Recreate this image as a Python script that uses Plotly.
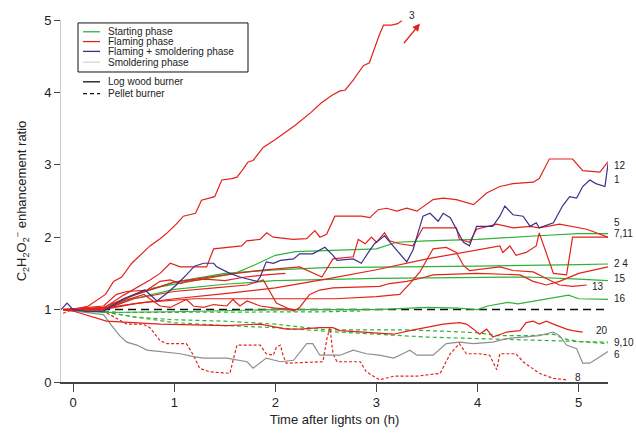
import plotly.graph_objects as go

# ---------------- data (time in h, enhancement ratio) ----------------
t_3 = [-0.1, 0.0, 0.15, 0.32, 0.40, 0.48, 0.58, 0.66, 0.76, 0.86, 0.93, 1.02, 1.09, 1.21, 1.27, 1.40, 1.47, 1.57, 1.62, 1.67, 1.73, 1.78, 1.88, 2.0, 2.1, 2.2, 2.35, 2.45, 2.56, 2.64, 2.69, 2.77, 2.87, 2.93, 3.03, 3.07, 3.15, 3.21, 3.25]
v_3 = [1.0, 1.0, 1.05, 1.21, 1.39, 1.45, 1.64, 1.75, 1.88, 1.98, 2.06, 2.18, 2.29, 2.33, 2.51, 2.56, 2.79, 2.81, 2.83, 2.92, 3.04, 3.06, 3.24, 3.35, 3.45, 3.55, 3.72, 3.85, 3.96, 4.02, 4.03, 4.17, 4.37, 4.41, 4.80, 4.93, 4.93, 4.95, 4.99]

t_12 = [-0.1, 0.0, 0.3, 0.5, 0.76, 0.86, 0.96, 1.06, 1.32, 1.39, 1.667, 1.716, 1.848, 1.914, 1.979, 2.177, 2.309, 2.391, 2.441, 2.507, 2.589, 2.705, 2.853, 2.935, 3.017, 3.10, 3.20, 3.30, 3.40, 3.56, 3.66, 3.79, 3.96, 4.09, 4.22, 4.35, 4.55, 4.61, 4.71, 4.94, 5.04, 5.21, 5.29]
v_12 = [1.0, 1.0, 1.02, 1.2, 1.41, 1.50, 1.64, 1.59, 1.59, 1.84, 1.88, 1.95, 1.97, 2.06, 2.00, 1.97, 1.98, 2.09, 2.00, 2.04, 2.29, 2.29, 2.29, 2.27, 2.38, 2.40, 2.36, 2.40, 2.36, 2.52, 2.54, 2.52, 2.45, 2.61, 2.70, 2.74, 2.76, 2.81, 3.08, 3.08, 2.92, 2.90, 3.04]

t_1 = [-0.12, -0.06, 0.0, 0.15, 0.3, 0.5, 0.71, 0.83, 0.93, 1.02, 1.12, 1.2, 1.29, 1.39, 1.42, 1.55, 1.65, 1.77, 1.82, 1.85, 1.91, 1.98, 2.05, 2.18, 2.24, 2.37, 2.49, 2.57, 2.61, 2.77, 2.85, 2.92, 2.98, 3.08, 3.13, 3.20, 3.30, 3.36, 3.46, 3.53, 3.61, 3.66, 3.73, 3.79, 3.86, 3.92, 3.99, 4.15, 4.22, 4.27, 4.35, 4.45, 4.52, 4.58, 4.61, 4.75, 4.84, 4.91, 4.98, 5.04, 5.11, 5.17, 5.26, 5.29]
v_1 = [1.0, 1.09, 1.0, 0.97, 0.98, 1.15, 1.27, 1.12, 1.23, 1.34, 1.48, 1.6, 1.64, 1.64, 1.59, 1.50, 1.45, 1.41, 1.39, 1.45, 1.66, 1.64, 1.68, 1.70, 1.77, 1.77, 1.86, 1.75, 1.68, 1.70, 1.64, 1.79, 1.91, 2.02, 1.93, 1.82, 1.66, 1.82, 2.29, 2.33, 2.22, 2.33, 2.27, 2.11, 1.93, 1.88, 2.15, 2.15, 2.29, 2.43, 2.31, 2.29, 2.15, 2.20, 2.13, 2.20, 2.43, 2.56, 2.54, 2.70, 2.79, 2.74, 2.70, 3.01]

t_5 = [-0.1, 0.3, 0.6, 1.0, 1.5, 1.9, 2.24, 2.46, 2.57, 2.77, 2.82, 2.89, 2.95, 3.0, 3.08, 3.13, 3.23, 3.36, 3.46, 3.79, 3.82, 3.92, 3.99, 4.19, 4.35, 4.52, 4.61, 4.81, 5.08, 5.29]
v_5 = [1.0, 1.03, 1.2, 1.38, 1.48, 1.55, 1.59, 1.45, 1.70, 1.73, 1.97, 1.91, 2.0, 1.93, 2.06, 1.95, 1.91, 1.88, 2.13, 2.13, 1.97, 1.93, 2.11, 2.18, 2.13, 2.15, 2.13, 2.18, 2.11, 2.0]

t_11 = [-0.1, 0.3, 0.6, 1.0, 1.5, 2.0, 2.5, 3.0, 3.5, 4.0, 4.22, 4.25, 4.32, 4.38, 4.48, 4.58, 4.61, 4.75, 4.88, 4.94, 5.21, 5.29]
v_11 = [1.0, 1.0, 1.08, 1.15, 1.22, 1.3, 1.42, 1.55, 1.7, 1.82, 1.88, 1.79, 1.88, 1.75, 1.79, 1.88, 2.06, 1.5, 1.48, 2.0, 2.0, 2.0]

t_13 = [-0.1, 0.3, 0.7, 1.2, 2.0, 2.6, 3.0, 3.23, 3.33, 3.43, 3.56, 3.69, 3.79, 3.86, 3.92, 4.09, 4.22, 4.35, 4.55, 4.68, 4.81, 4.94, 5.08]
v_13 = [1.0, 1.02, 1.1, 1.15, 1.15, 1.15, 1.18, 1.21, 1.36, 1.52, 1.84, 1.86, 1.79, 1.61, 1.54, 1.57, 1.59, 1.54, 1.52, 1.43, 1.34, 1.32, 1.34]

t_4 = [-0.1, 0.3, 0.6, 1.0, 1.4, 1.72, 1.88, 2.01, 2.18, 2.24, 2.34, 2.44, 2.57, 3.03, 3.13, 3.30, 3.43, 3.56, 4.0, 4.42, 4.55, 4.68, 4.81, 5.0, 5.29]
v_4 = [1.0, 1.0, 1.15, 1.25, 1.3, 1.34, 1.41, 1.09, 0.98, 1.03, 1.21, 1.27, 1.30, 1.32, 1.36, 1.39, 1.43, 1.48, 1.5, 1.48, 1.39, 1.34, 1.39, 1.5, 1.59]

t_14 = [-0.1, 0.3, 0.5, 0.70, 0.79, 0.86, 0.96, 1.12, 1.19, 1.29, 1.39, 1.52, 1.58, 1.65, 1.72, 1.85, 2.0, 2.2]
v_14 = [1.0, 1.0, 1.12, 1.21, 1.12, 1.05, 1.03, 1.14, 1.05, 1.03, 1.07, 1.05, 1.14, 1.05, 1.12, 1.05, 1.02, 1.0]

t_17 = [-0.1, 0.30, 0.43, 0.53, 0.73, 0.86, 0.96, 1.06, 1.12, 1.3, 1.5, 1.7, 1.9, 2.1]
v_17 = [1.0, 1.05, 1.21, 1.25, 1.27, 1.39, 1.41, 1.36, 1.39, 1.42, 1.40, 1.45, 1.48, 1.5]

t_20 = [-0.1, 0.0, 0.33, 0.86, 1.52, 1.85, 2.11, 2.24, 2.44, 2.57, 2.64, 2.90, 3.17, 3.33, 3.56, 3.66, 3.82, 3.89, 3.96, 4.02, 4.09, 4.15, 4.29, 4.42, 4.48, 4.55, 4.61, 4.68, 4.75, 4.88, 4.94, 5.04]
v_20 = [1.0, 0.98, 0.84, 0.80, 0.78, 0.80, 0.73, 0.73, 0.75, 0.75, 0.71, 0.69, 0.66, 0.71, 0.78, 0.80, 0.82, 0.80, 0.73, 0.66, 0.73, 0.62, 0.69, 0.71, 0.82, 0.84, 0.80, 0.84, 0.80, 0.73, 0.71, 0.69]

t_8 = [-0.1, 0.0, 0.30, 0.53, 0.69, 0.76, 0.86, 0.93, 1.12, 1.19, 1.25, 1.35, 1.55, 1.58, 1.62, 1.85, 1.91, 1.98, 2.01, 2.05, 2.08, 2.11, 2.47, 2.51, 2.54, 2.57, 2.61, 2.84, 2.90, 3.03, 3.17, 3.40, 3.63, 3.73, 3.82, 3.89, 4.02, 4.12, 4.19, 4.22, 4.38, 4.45, 4.61, 4.75, 4.88]
v_8 = [0.95, 1.0, 0.98, 0.80, 0.80, 0.75, 0.57, 0.53, 0.53, 0.37, 0.19, 0.14, 0.12, 0.28, 0.51, 0.51, 0.39, 0.37, 0.48, 0.51, 0.35, 0.26, 0.28, 0.60, 0.75, 0.39, 0.28, 0.28, 0.14, 0.03, 0.08, 0.08, 0.12, 0.39, 0.53, 0.39, 0.39, 0.37, 0.17, 0.39, 0.39, 0.28, 0.12, 0.05, 0.03]

t_6 = [-0.1, 0.0, 0.30, 0.37, 0.46, 0.53, 0.63, 0.73, 0.86, 1.06, 1.19, 1.29, 1.52, 1.72, 1.78, 1.85, 1.91, 2.05, 2.18, 2.31, 2.37, 2.44, 2.64, 2.77, 2.90, 3.03, 3.17, 3.26, 3.33, 3.40, 3.56, 3.69, 3.82, 3.96, 4.15, 4.29, 4.48, 4.61, 4.75, 4.81, 4.88, 4.98, 5.04, 5.11, 5.21, 5.29]
v_6 = [1.0, 0.98, 0.93, 0.80, 0.64, 0.55, 0.51, 0.44, 0.42, 0.39, 0.35, 0.33, 0.33, 0.28, 0.19, 0.26, 0.33, 0.28, 0.30, 0.53, 0.53, 0.37, 0.37, 0.44, 0.39, 0.37, 0.33, 0.39, 0.44, 0.37, 0.37, 0.53, 0.55, 0.53, 0.55, 0.60, 0.62, 0.64, 0.69, 0.64, 0.51, 0.46, 0.26, 0.26, 0.35, 0.42]

t_7 = [-0.1, 0.3, 0.5, 0.8, 1.2, 1.6, 1.8, 2.0, 2.2, 2.6, 3.0, 3.2, 3.5, 4.0, 4.3, 4.6, 5.0, 5.29]
v_7 = [1.0, 1.0, 1.15, 1.3, 1.4, 1.5, 1.62, 1.75, 1.80, 1.82, 1.84, 1.93, 1.95, 1.97, 2.0, 2.02, 2.05, 2.05]

t_2 = [-0.1, 0.3, 0.6, 1.0, 1.5, 2.0, 2.5, 3.0, 4.0, 5.0, 5.29]
v_2 = [1.0, 1.0, 1.2, 1.38, 1.5, 1.55, 1.58, 1.59, 1.6, 1.62, 1.63]

t_15 = [-0.1, 0.3, 0.6, 1.0, 1.5, 2.0, 3.0, 4.0, 4.5, 5.0, 5.29]
v_15 = [1.0, 1.0, 1.15, 1.28, 1.35, 1.4, 1.43, 1.45, 1.45, 1.42, 1.40]

t_16 = [-0.1, 0.3, 1.0, 2.0, 3.0, 3.5, 3.8, 4.0, 4.1, 4.3, 4.4, 4.6, 4.8, 4.9, 5.0, 5.29]
v_16 = [1.0, 0.96, 0.97, 1.0, 1.0, 1.03, 1.02, 1.0, 1.05, 1.1, 1.08, 1.13, 1.18, 1.2, 1.15, 1.14]

t_9 = [-0.1, 0.3, 0.6, 1.0, 1.5, 2.0, 2.5, 2.84, 3.3, 3.7, 4.0, 4.2, 4.5, 4.75, 4.85, 5.0, 5.29]
v_9 = [1.0, 0.97, 0.9, 0.86, 0.84, 0.8, 0.72, 0.72, 0.72, 0.7, 0.68, 0.64, 0.64, 0.66, 0.6, 0.56, 0.55]

t_10 = [-0.1, 0.3, 0.6, 1.0, 1.5, 2.0, 2.5, 3.0, 3.5, 4.0, 4.5, 5.0, 5.29]
v_10 = [1.0, 0.97, 0.9, 0.82, 0.78, 0.75, 0.7, 0.66, 0.62, 0.6, 0.58, 0.56, 0.53]

t_18 = [-0.1, 0.3, 0.46, 1.0, 1.5, 2.0, 2.5, 2.84]
v_18 = [1.0, 0.98, 0.96, 0.96, 0.96, 0.97, 0.97, 0.98]

t_ref = [-0.1, 5.29]
v_ref = [1.0, 1.0]

# series: (x, y, phase, burner)
series = [
    (t_ref, v_ref, "ref", "pellet"),
    (t_18, v_18, "start", "pellet"),
    (t_9, v_9, "start", "pellet"),
    (t_10, v_10, "start", "pellet"),
    (t_8, v_8, "flame", "pellet"),
    (t_6, v_6, "smoulder", "log"),
    (t_16, v_16, "start", "log"),
    (t_15, v_15, "start", "log"),
    (t_2, v_2, "start", "log"),
    (t_7, v_7, "start", "log"),
    (t_20, v_20, "flame", "log"),
    (t_14, v_14, "flame", "log"),
    (t_17, v_17, "flame", "log"),
    (t_4, v_4, "flame", "log"),
    (t_13, v_13, "flame", "log"),
    (t_11, v_11, "flame", "log"),
    (t_5, v_5, "flame", "log"),
    (t_12, v_12, "flame", "log"),
    (t_3, v_3, "flame", "log"),
    (t_1, v_1, "mixed", "log"),
]

colors = {"start": "#2fb23a", "flame": "#e2231a", "mixed": "#3b2f8c",
          "smoulder": "#8e8e8e", "ref": "#111111"}

fig = go.Figure()
for x, y, ph, bu in series:
    if ph == "ref":
        dash = "8px,5px"
    elif bu == "log":
        dash = "solid"
    else:
        dash = "3px,2px" if ph == "flame" else "4px,3px"
    fig.add_trace(go.Scatter(x=x, y=y, mode="lines", showlegend=False,
                             line=dict(color=colors[ph], width=1.5 if ph == "ref" else 1.2,
                                       dash=dash), hoverinfo="skip"))

# arrow for off-scale series 3
fig.add_annotation(x=3.43, y=4.95, ax=3.26, ay=4.66, xref="x", yref="y",
                   axref="x", ayref="y", showarrow=True, arrowhead=2,
                   arrowsize=1, arrowwidth=1.5, arrowcolor="#e2231a", text="")

# ---------------- layout ----------------
W, H = 636, 437
L, R, T, B = 61, 28, 20, 48
PW, PH = W - L - R, H - T - B

def px(xpix):
    return (xpix - L) / PW

def py(ypix):
    return (H - B - ypix) / PH

FONT = "Liberation Sans, Arial, sans-serif"

# right-hand labels
labels = [("3", 407, 15), ("12", 612, 168), ("1", 612, 183), ("5", 612, 226),
          ("7,11", 612, 238), ("2 4", 612, 268), ("15", 612, 284), ("13", 590, 292),
          ("16", 612, 304), ("20", 594, 337), ("9,10", 612, 349), ("6", 612, 361),
          ("8", 573, 384)]
for txt, xx, yy in labels:
    fig.add_annotation(x=px(xx), y=py(yy), xref="paper", yref="paper", text=txt,
                       showarrow=False, xanchor="left", yanchor="middle",
                       font=dict(size=10, color="#222", family=FONT))

# legend drawn manually
shapes = []
shapes.append(dict(type="rect", xref="paper", yref="paper", x0=px(78), x1=px(248),
                   y0=py(73), y1=py(23), line=dict(color="#111", width=1),
                   fillcolor="white", layer="above"))
leg = [("Starting phase", colors["start"], "solid", 32),
       ("Flaming phase", colors["flame"], "solid", 42),
       ("Flaming + smoldering phase", colors["mixed"], "solid", 52),
       ("Smoldering phase", "#d6d6d6", "solid", 63),
       ("Log wood burner", "#111", "solid", 83),
       ("Pellet burner", "#111", "4px,3px", 95)]
for txt, c, d, yy in leg:
    shapes.append(dict(type="line", xref="paper", yref="paper", x0=px(83), x1=px(100),
                       y0=py(yy), y1=py(yy), line=dict(color=c, width=1.3, dash=d),
                       layer="above"))
    fig.add_annotation(x=px(106), y=py(yy), xref="paper", yref="paper", text=txt,
                       showarrow=False, xanchor="left", yanchor="middle",
                       font=dict(size=10, color="#222", family=FONT))

fig.update_layout(
    width=W, height=H, margin=dict(l=L, r=R, t=T, b=B),
    paper_bgcolor="white", plot_bgcolor="white",
    shapes=shapes, showlegend=False, hovermode=False,
    font=dict(family=FONT, size=13, color="#222"),
    xaxis=dict(range=[-0.12, 5.29], tickvals=[0, 1, 2, 3, 4, 5], showgrid=False,
               zeroline=False, showline=True, linecolor="#444", linewidth=1.5,
               ticks="outside", ticklen=8, tickcolor="#444",
               title=dict(text="Time after lights on (h)", standoff=6,
                          font=dict(size=13))),
    yaxis=dict(range=[0, 5], tickvals=[0, 1, 2, 3, 4, 5], showgrid=False,
               zeroline=False, showline=True, linecolor="#cccccc", linewidth=1,
               ticks="outside", ticklen=6, tickcolor="#444",
               title=dict(text="C<sub>2</sub>H<sub>2</sub>O<sub>2</sub><sup>−</sup> enhancement ratio",
                          standoff=14, font=dict(size=13))),
)

fig.write_html("out.html", config={"displayModeBar": False},
               post_script="document.body.style.margin='0';document.body.style.overflow='hidden';")
